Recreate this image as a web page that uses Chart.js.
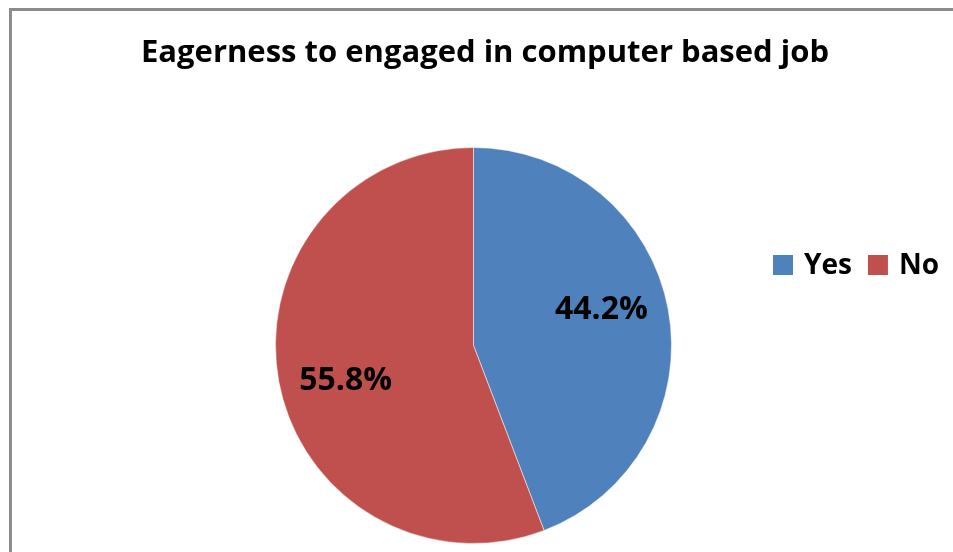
<!DOCTYPE html>
<html>
<head>
<meta charset="utf-8">
<script src="https://cdn.jsdelivr.net/npm/chart.js@4/dist/chart.umd.min.js"></script>
<style>
  html, body { margin: 0; padding: 0; background: #fff; overflow: hidden; }
  #wrap { position: relative; width: 953px; height: 552px; }
  #frame {
    position: absolute; left: 9px; top: 8px; width: 1000px; height: 600px;
    border: 3px solid #8c8c8c; box-sizing: border-box;
  }
  canvas { position: absolute; left: 0; top: 0; }
</style>
</head>
<body>
<div id="wrap">
  <div id="frame"></div>
  <canvas id="eagerChart" width="953" height="552"></canvas>
</div>
<script>
const titleText = 'Eagerness to engaged in computer based job'
const answers = ['Yes', 'No']
const shares = [44.2, 55.8]
const sliceColors = ['#4F81BD', '#C0504D']

const FONT = '"Open Sans", Lato, sans-serif'

// title sits a little right of the pie's centre line
const topTitle = {
  id: 'topTitle',
  afterDraw(chart) {
    const { ctx } = chart
    ctx.save()
    ctx.font = 'bold 31px ' + FONT
    ctx.fillStyle = '#000'
    ctx.textAlign = 'center'
    ctx.textBaseline = 'middle'
    ctx.fillText(titleText, 485, 53)
    ctx.restore()
  }
}

// percent labels inside each slice
const sliceLabels = {
  id: 'sliceLabels',
  afterDatasetsDraw(chart) {
    const { ctx } = chart
    const arcs = chart.getDatasetMeta(0).data
    ctx.save()
    ctx.font = 'bold 32px ' + FONT
    ctx.fillStyle = '#000'
    ctx.textAlign = 'center'
    ctx.textBaseline = 'middle'
    arcs.forEach((arc, i) => {
      const mid = (arc.startAngle + arc.endAngle) / 2 - 5 * Math.PI / 180
      const r = arc.outerRadius * 0.67
      const x = arc.x + Math.cos(mid) * r
      const y = arc.y + Math.sin(mid) * r
      ctx.fillText(shares[i].toFixed(1) + '%', x, y)
    })
    ctx.restore()
  }
}

// legend laid out in a single row to the right of the pie
const rowLegend = {
  id: 'rowLegend',
  afterDraw(chart) {
    const { ctx } = chart
    ctx.save()
    ctx.font = 'bold 28px ' + FONT
    ctx.textBaseline = 'middle'
    ctx.textAlign = 'left'
    let x = 773
    const y = 265
    answers.forEach((name, i) => {
      ctx.fillStyle = sliceColors[i]
      ctx.fillRect(x, y - 10, 20, 20)
      ctx.fillStyle = '#000'
      ctx.fillText(name, x + 31, y + 1)
      x += 31 + ctx.measureText(name).width + 16
    })
    ctx.restore()
  }
}

new Chart(document.getElementById('eagerChart'), {
  type: 'pie',
  data: {
    labels: answers,
    datasets: [{
      data: shares,
      backgroundColor: sliceColors,
      borderColor: 'rgba(255,255,255,0.5)',
      borderWidth: 1
    }]
  },
  options: {
    responsive: false,
    animation: false,
    layout: { padding: { left: 0, right: 6, top: 147, bottom: 8 } },
    plugins: {
      legend: { display: false },
      tooltip: { enabled: false },
      title: { display: false }
    }
  },
  plugins: [topTitle, sliceLabels, rowLegend]
})
</script>
</body>
</html>
